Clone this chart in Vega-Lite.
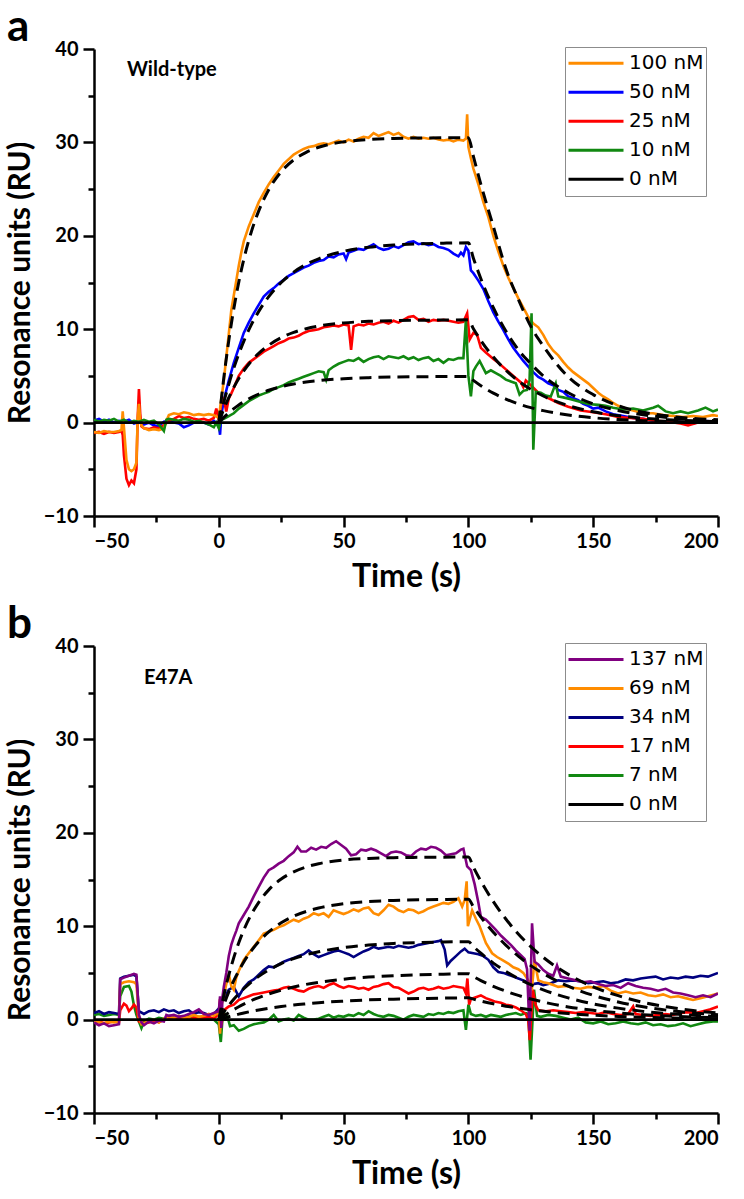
{
"$schema": "https://vega.github.io/schema/vega-lite/v6.json",
"padding": {"left": 5, "top": 6, "right": 5, "bottom": 2},
"background": "white",
"config": {
  "view": {"stroke": null},
  "axis": {"domainColor": "black", "domainWidth": 2.5, "tickColor": "black", "tickWidth": 2.5, "labelFont": "Lato", "labelFontWeight": "bold", "labelFontSize": 20, "labelColor": "black", "titleFont": "Lato", "titleFontWeight": "bold", "titleFontSize": 32, "titleColor": "black", "grid": false, "labelOverlap": false}
},
"datasets": {
"a": [
{"s":"50 nM","t":-50,"v":0.2},{"s":"50 nM","t":-48,"v":0.4},{"s":"50 nM","t":-46,"v":0.1},{"s":"50 nM","t":-44,"v":0.3},{"s":"50 nM","t":-42,"v":0.0},{"s":"50 nM","t":-40,"v":0.2},{"s":"50 nM","t":-38,"v":0.1},{"s":"50 nM","t":-36,"v":0.3},{"s":"50 nM","t":-34,"v":-0.1},{"s":"50 nM","t":-32,"v":0.1},{"s":"50 nM","t":-30,"v":-0.2},{"s":"50 nM","t":-28,"v":0.0},{"s":"50 nM","t":-26,"v":-0.3},{"s":"50 nM","t":-24,"v":-0.4},{"s":"50 nM","t":-22,"v":0.1},{"s":"50 nM","t":-20,"v":0.2},{"s":"50 nM","t":-18,"v":0.0},{"s":"50 nM","t":-16,"v":-0.1},{"s":"50 nM","t":-14,"v":-0.5},{"s":"50 nM","t":-12,"v":-0.3},{"s":"50 nM","t":-10,"v":0.0},{"s":"50 nM","t":-8,"v":0.1},{"s":"50 nM","t":-6,"v":0.0},{"s":"50 nM","t":-4,"v":-0.2},{"s":"50 nM","t":-2,"v":0.2},{"s":"50 nM","t":0,"v":-0.3},{"s":"50 nM","t":0.5,"v":-1.3},{"s":"50 nM","t":1,"v":0.8},{"s":"50 nM","t":2,"v":2.4},{"s":"50 nM","t":4,"v":4.5},{"s":"50 nM","t":6,"v":6.4},{"s":"50 nM","t":8,"v":8.0},{"s":"50 nM","t":10,"v":9.6},{"s":"50 nM","t":12,"v":10.7},{"s":"50 nM","t":14,"v":11.7},{"s":"50 nM","t":16,"v":12.6},{"s":"50 nM","t":18,"v":13.5},{"s":"50 nM","t":20,"v":14.0},{"s":"50 nM","t":22,"v":14.4},{"s":"50 nM","t":24,"v":14.9},{"s":"50 nM","t":26,"v":15.3},{"s":"50 nM","t":28,"v":15.7},{"s":"50 nM","t":30,"v":16.0},{"s":"50 nM","t":32,"v":16.3},{"s":"50 nM","t":34,"v":16.6},{"s":"50 nM","t":36,"v":16.8},{"s":"50 nM","t":38,"v":17.1},{"s":"50 nM","t":40,"v":17.3},{"s":"50 nM","t":42,"v":17.4},{"s":"50 nM","t":44,"v":17.8},{"s":"50 nM","t":46,"v":17.7},{"s":"50 nM","t":48,"v":18.0},{"s":"50 nM","t":50,"v":18.1},{"s":"50 nM","t":51,"v":17.5},{"s":"50 nM","t":52,"v":18.2},{"s":"50 nM","t":54,"v":18.4},{"s":"50 nM","t":56,"v":18.6},{"s":"50 nM","t":58,"v":18.5},{"s":"50 nM","t":60,"v":18.8},{"s":"50 nM","t":62,"v":19.1},{"s":"50 nM","t":64,"v":18.7},{"s":"50 nM","t":66,"v":18.5},{"s":"50 nM","t":68,"v":18.6},{"s":"50 nM","t":70,"v":18.9},{"s":"50 nM","t":72,"v":18.7},{"s":"50 nM","t":74,"v":19.0},{"s":"50 nM","t":76,"v":19.3},{"s":"50 nM","t":78,"v":19.4},{"s":"50 nM","t":80,"v":19.1},{"s":"50 nM","t":82,"v":19.2},{"s":"50 nM","t":84,"v":19.0},{"s":"50 nM","t":86,"v":19.1},{"s":"50 nM","t":88,"v":18.8},{"s":"50 nM","t":90,"v":18.7},{"s":"50 nM","t":92,"v":18.5},{"s":"50 nM","t":94,"v":18.1},{"s":"50 nM","t":96,"v":17.8},{"s":"50 nM","t":97,"v":18.2},{"s":"50 nM","t":98,"v":17.9},{"s":"50 nM","t":99,"v":18.8},{"s":"50 nM","t":100,"v":18.4},{"s":"50 nM","t":101,"v":16.3},{"s":"50 nM","t":102,"v":16.0},{"s":"50 nM","t":104,"v":15.2},{"s":"50 nM","t":106,"v":14.3},{"s":"50 nM","t":108,"v":13.0},{"s":"50 nM","t":110,"v":11.8},{"s":"50 nM","t":112,"v":10.8},{"s":"50 nM","t":114,"v":9.9},{"s":"50 nM","t":116,"v":8.9},{"s":"50 nM","t":118,"v":8.0},{"s":"50 nM","t":120,"v":7.3},{"s":"50 nM","t":122,"v":6.6},{"s":"50 nM","t":124,"v":6.0},{"s":"50 nM","t":126,"v":5.4},{"s":"50 nM","t":128,"v":4.9},{"s":"50 nM","t":130,"v":4.6},{"s":"50 nM","t":132,"v":4.2},{"s":"50 nM","t":134,"v":4.0},{"s":"50 nM","t":136,"v":3.5},{"s":"50 nM","t":138,"v":3.3},{"s":"50 nM","t":140,"v":2.8},{"s":"50 nM","t":142,"v":2.6},{"s":"50 nM","t":144,"v":2.4},{"s":"50 nM","t":146,"v":2.0},{"s":"50 nM","t":148,"v":1.8},{"s":"50 nM","t":150,"v":1.5},{"s":"50 nM","t":152,"v":1.6},{"s":"50 nM","t":155,"v":1.2},{"s":"50 nM","t":158,"v":0.9},{"s":"50 nM","t":162,"v":0.7},{"s":"50 nM","t":166,"v":0.5},{"s":"50 nM","t":170,"v":0.4},{"s":"50 nM","t":174,"v":0.2},{"s":"50 nM","t":178,"v":0.1},{"s":"50 nM","t":182,"v":0.2},{"s":"50 nM","t":186,"v":0.0},{"s":"50 nM","t":190,"v":-0.1},{"s":"50 nM","t":194,"v":0.2},{"s":"50 nM","t":198,"v":0.1},{"s":"50 nM","t":200,"v":0.2},
{"s":"25 nM","t":-50,"v":-1.1},{"s":"25 nM","t":-48,"v":-1.0},{"s":"25 nM","t":-46,"v":-1.2},{"s":"25 nM","t":-44,"v":-1.0},{"s":"25 nM","t":-42,"v":-1.1},{"s":"25 nM","t":-40,"v":-1.0},{"s":"25 nM","t":-39,"v":-0.9},{"s":"25 nM","t":-38.5,"v":-1.3},{"s":"25 nM","t":-38,"v":-3.5},{"s":"25 nM","t":-37,"v":-6.0},{"s":"25 nM","t":-36,"v":-6.7},{"s":"25 nM","t":-35,"v":-6.2},{"s":"25 nM","t":-34,"v":-6.5},{"s":"25 nM","t":-33,"v":-5.0},{"s":"25 nM","t":-32.5,"v":0.5},{"s":"25 nM","t":-32,"v":3.6},{"s":"25 nM","t":-31.5,"v":1.0},{"s":"25 nM","t":-31,"v":-0.4},{"s":"25 nM","t":-30,"v":-0.6},{"s":"25 nM","t":-28,"v":-0.7},{"s":"25 nM","t":-26,"v":-0.5},{"s":"25 nM","t":-24,"v":-0.6},{"s":"25 nM","t":-22,"v":-0.3},{"s":"25 nM","t":-20,"v":0.2},{"s":"25 nM","t":-18,"v":0.4},{"s":"25 nM","t":-16,"v":0.7},{"s":"25 nM","t":-14,"v":0.5},{"s":"25 nM","t":-12,"v":0.6},{"s":"25 nM","t":-10,"v":0.4},{"s":"25 nM","t":-8,"v":0.3},{"s":"25 nM","t":-6,"v":0.4},{"s":"25 nM","t":-4,"v":0.2},{"s":"25 nM","t":-2,"v":0.5},{"s":"25 nM","t":-1,"v":1.5},{"s":"25 nM","t":0,"v":0.3},{"s":"25 nM","t":1,"v":2.0},{"s":"25 nM","t":2,"v":2.5},{"s":"25 nM","t":3,"v":1.2},{"s":"25 nM","t":4,"v":2.6},{"s":"25 nM","t":5,"v":3.1},{"s":"25 nM","t":6,"v":3.7},{"s":"25 nM","t":8,"v":5.0},{"s":"25 nM","t":10,"v":5.8},{"s":"25 nM","t":12,"v":6.4},{"s":"25 nM","t":14,"v":6.8},{"s":"25 nM","t":16,"v":7.2},{"s":"25 nM","t":18,"v":7.6},{"s":"25 nM","t":20,"v":7.9},{"s":"25 nM","t":22,"v":8.2},{"s":"25 nM","t":24,"v":8.5},{"s":"25 nM","t":26,"v":8.7},{"s":"25 nM","t":28,"v":9.0},{"s":"25 nM","t":30,"v":9.1},{"s":"25 nM","t":32,"v":9.3},{"s":"25 nM","t":34,"v":9.6},{"s":"25 nM","t":36,"v":9.8},{"s":"25 nM","t":38,"v":9.9},{"s":"25 nM","t":40,"v":10.0},{"s":"25 nM","t":42,"v":10.2},{"s":"25 nM","t":44,"v":10.3},{"s":"25 nM","t":46,"v":10.4},{"s":"25 nM","t":48,"v":10.3},{"s":"25 nM","t":50,"v":10.5},{"s":"25 nM","t":52,"v":10.4},{"s":"25 nM","t":53,"v":7.8},{"s":"25 nM","t":54,"v":10.3},{"s":"25 nM","t":56,"v":10.5},{"s":"25 nM","t":58,"v":10.4},{"s":"25 nM","t":60,"v":10.6},{"s":"25 nM","t":62,"v":10.5},{"s":"25 nM","t":64,"v":10.7},{"s":"25 nM","t":66,"v":10.8},{"s":"25 nM","t":68,"v":10.6},{"s":"25 nM","t":70,"v":10.9},{"s":"25 nM","t":72,"v":10.7},{"s":"25 nM","t":74,"v":11.0},{"s":"25 nM","t":76,"v":11.3},{"s":"25 nM","t":78,"v":11.4},{"s":"25 nM","t":80,"v":11.0},{"s":"25 nM","t":82,"v":11.1},{"s":"25 nM","t":84,"v":10.8},{"s":"25 nM","t":86,"v":11.0},{"s":"25 nM","t":88,"v":10.9},{"s":"25 nM","t":90,"v":11.0},{"s":"25 nM","t":92,"v":10.9},{"s":"25 nM","t":94,"v":10.8},{"s":"25 nM","t":96,"v":10.7},{"s":"25 nM","t":98,"v":10.8},{"s":"25 nM","t":99.5,"v":11.7},{"s":"25 nM","t":100.5,"v":8.9},{"s":"25 nM","t":102,"v":9.6},{"s":"25 nM","t":103.5,"v":9.4},{"s":"25 nM","t":105,"v":8.0},{"s":"25 nM","t":107,"v":7.5},{"s":"25 nM","t":110,"v":6.8},{"s":"25 nM","t":112,"v":6.4},{"s":"25 nM","t":115,"v":5.7},{"s":"25 nM","t":118,"v":5.0},{"s":"25 nM","t":121,"v":4.3},{"s":"25 nM","t":122,"v":3.8},{"s":"25 nM","t":123,"v":4.5},{"s":"25 nM","t":125,"v":4.0},{"s":"25 nM","t":128,"v":3.2},{"s":"25 nM","t":130,"v":2.9},{"s":"25 nM","t":133,"v":2.5},{"s":"25 nM","t":136,"v":2.1},{"s":"25 nM","t":140,"v":1.7},{"s":"25 nM","t":145,"v":1.3},{"s":"25 nM","t":150,"v":1.1},{"s":"25 nM","t":155,"v":0.9},{"s":"25 nM","t":160,"v":0.6},{"s":"25 nM","t":165,"v":0.5},{"s":"25 nM","t":170,"v":0.4},{"s":"25 nM","t":175,"v":0.2},{"s":"25 nM","t":180,"v":0.1},{"s":"25 nM","t":185,"v":-0.1},{"s":"25 nM","t":188,"v":-0.3},{"s":"25 nM","t":192,"v":0.0},{"s":"25 nM","t":196,"v":0.1},{"s":"25 nM","t":200,"v":0.2},
{"s":"100 nM","t":-50,"v":-1.0},{"s":"100 nM","t":-48,"v":-1.1},{"s":"100 nM","t":-46,"v":-0.9},{"s":"100 nM","t":-44,"v":-1.0},{"s":"100 nM","t":-42,"v":-1.0},{"s":"100 nM","t":-40,"v":-0.9},{"s":"100 nM","t":-39,"v":-0.8},{"s":"100 nM","t":-38.5,"v":1.2},{"s":"100 nM","t":-38,"v":-0.5},{"s":"100 nM","t":-37,"v":-4.0},{"s":"100 nM","t":-36,"v":-5.0},{"s":"100 nM","t":-35,"v":-5.2},{"s":"100 nM","t":-34,"v":-5.0},{"s":"100 nM","t":-33,"v":-4.3},{"s":"100 nM","t":-32.5,"v":0.5},{"s":"100 nM","t":-32,"v":2.0},{"s":"100 nM","t":-31.5,"v":0.3},{"s":"100 nM","t":-31,"v":-0.3},{"s":"100 nM","t":-30,"v":-0.6},{"s":"100 nM","t":-28,"v":-0.8},{"s":"100 nM","t":-26,"v":-0.7},{"s":"100 nM","t":-24,"v":-0.8},{"s":"100 nM","t":-22,"v":-0.6},{"s":"100 nM","t":-21,"v":0.2},{"s":"100 nM","t":-20,"v":0.8},{"s":"100 nM","t":-18,"v":1.0},{"s":"100 nM","t":-16,"v":0.9},{"s":"100 nM","t":-14,"v":1.1},{"s":"100 nM","t":-12,"v":1.0},{"s":"100 nM","t":-10,"v":0.8},{"s":"100 nM","t":-8,"v":0.9},{"s":"100 nM","t":-6,"v":0.8},{"s":"100 nM","t":-4,"v":0.9},{"s":"100 nM","t":-2,"v":0.8},{"s":"100 nM","t":0,"v":0.5},{"s":"100 nM","t":1,"v":2.5},{"s":"100 nM","t":2,"v":4.5},{"s":"100 nM","t":3,"v":7.0},{"s":"100 nM","t":4,"v":9.5},{"s":"100 nM","t":5,"v":12.0},{"s":"100 nM","t":6,"v":13.6},{"s":"100 nM","t":7,"v":15.2},{"s":"100 nM","t":8,"v":16.8},{"s":"100 nM","t":9,"v":18.2},{"s":"100 nM","t":10,"v":19.4},{"s":"100 nM","t":12,"v":21.0},{"s":"100 nM","t":14,"v":22.3},{"s":"100 nM","t":16,"v":23.6},{"s":"100 nM","t":18,"v":24.6},{"s":"100 nM","t":20,"v":25.5},{"s":"100 nM","t":22,"v":26.3},{"s":"100 nM","t":24,"v":27.0},{"s":"100 nM","t":26,"v":27.7},{"s":"100 nM","t":28,"v":28.2},{"s":"100 nM","t":30,"v":28.7},{"s":"100 nM","t":32,"v":29.0},{"s":"100 nM","t":34,"v":29.3},{"s":"100 nM","t":36,"v":29.5},{"s":"100 nM","t":38,"v":29.6},{"s":"100 nM","t":40,"v":29.8},{"s":"100 nM","t":42,"v":29.9},{"s":"100 nM","t":44,"v":29.8},{"s":"100 nM","t":46,"v":30.0},{"s":"100 nM","t":48,"v":30.2},{"s":"100 nM","t":50,"v":30.0},{"s":"100 nM","t":52,"v":30.3},{"s":"100 nM","t":54,"v":30.1},{"s":"100 nM","t":56,"v":30.4},{"s":"100 nM","t":58,"v":30.6},{"s":"100 nM","t":60,"v":30.5},{"s":"100 nM","t":62,"v":31.0},{"s":"100 nM","t":64,"v":30.7},{"s":"100 nM","t":66,"v":30.9},{"s":"100 nM","t":68,"v":31.1},{"s":"100 nM","t":70,"v":30.8},{"s":"100 nM","t":72,"v":31.0},{"s":"100 nM","t":74,"v":30.6},{"s":"100 nM","t":76,"v":30.4},{"s":"100 nM","t":78,"v":30.6},{"s":"100 nM","t":80,"v":30.4},{"s":"100 nM","t":82,"v":30.5},{"s":"100 nM","t":84,"v":30.4},{"s":"100 nM","t":86,"v":30.5},{"s":"100 nM","t":88,"v":30.3},{"s":"100 nM","t":90,"v":30.2},{"s":"100 nM","t":92,"v":30.3},{"s":"100 nM","t":94,"v":30.1},{"s":"100 nM","t":96,"v":30.3},{"s":"100 nM","t":98,"v":30.2},{"s":"100 nM","t":99,"v":30.4},{"s":"100 nM","t":99.5,"v":33.0},{"s":"100 nM","t":100,"v":29.5},{"s":"100 nM","t":101,"v":28.3},{"s":"100 nM","t":102,"v":27.2},{"s":"100 nM","t":104,"v":25.5},{"s":"100 nM","t":106,"v":23.6},{"s":"100 nM","t":108,"v":22.0},{"s":"100 nM","t":110,"v":20.0},{"s":"100 nM","t":112,"v":18.3},{"s":"100 nM","t":114,"v":16.8},{"s":"100 nM","t":116,"v":15.5},{"s":"100 nM","t":118,"v":14.4},{"s":"100 nM","t":120,"v":13.3},{"s":"100 nM","t":122,"v":12.3},{"s":"100 nM","t":124,"v":11.3},{"s":"100 nM","t":126,"v":10.6},{"s":"100 nM","t":128,"v":10.2},{"s":"100 nM","t":130,"v":9.4},{"s":"100 nM","t":132,"v":8.4},{"s":"100 nM","t":134,"v":7.7},{"s":"100 nM","t":136,"v":7.2},{"s":"100 nM","t":138,"v":6.5},{"s":"100 nM","t":140,"v":5.9},{"s":"100 nM","t":142,"v":5.4},{"s":"100 nM","t":144,"v":5.0},{"s":"100 nM","t":146,"v":4.6},{"s":"100 nM","t":148,"v":4.2},{"s":"100 nM","t":150,"v":3.7},{"s":"100 nM","t":152,"v":3.2},{"s":"100 nM","t":154,"v":2.8},{"s":"100 nM","t":156,"v":2.5},{"s":"100 nM","t":158,"v":2.1},{"s":"100 nM","t":160,"v":1.8},{"s":"100 nM","t":163,"v":1.5},{"s":"100 nM","t":166,"v":1.3},{"s":"100 nM","t":170,"v":1.0},{"s":"100 nM","t":174,"v":1.0},{"s":"100 nM","t":178,"v":0.8},{"s":"100 nM","t":182,"v":0.7},{"s":"100 nM","t":186,"v":0.6},{"s":"100 nM","t":190,"v":0.7},{"s":"100 nM","t":194,"v":0.6},{"s":"100 nM","t":198,"v":0.8},{"s":"100 nM","t":200,"v":0.7},
{"s":"10 nM","t":-50,"v":0.3},{"s":"10 nM","t":-48,"v":0.1},{"s":"10 nM","t":-46,"v":0.3},{"s":"10 nM","t":-44,"v":0.2},{"s":"10 nM","t":-42,"v":0.4},{"s":"10 nM","t":-40,"v":0.1},{"s":"10 nM","t":-38,"v":0.3},{"s":"10 nM","t":-36,"v":0.0},{"s":"10 nM","t":-34,"v":0.2},{"s":"10 nM","t":-32,"v":0.1},{"s":"10 nM","t":-30,"v":0.3},{"s":"10 nM","t":-28,"v":0.1},{"s":"10 nM","t":-26,"v":0.2},{"s":"10 nM","t":-24,"v":-0.2},{"s":"10 nM","t":-22,"v":-0.9},{"s":"10 nM","t":-21,"v":0.3},{"s":"10 nM","t":-20,"v":0.4},{"s":"10 nM","t":-18,"v":0.3},{"s":"10 nM","t":-16,"v":0.2},{"s":"10 nM","t":-14,"v":0.4},{"s":"10 nM","t":-12,"v":0.3},{"s":"10 nM","t":-10,"v":0.1},{"s":"10 nM","t":-8,"v":0.2},{"s":"10 nM","t":-6,"v":0.0},{"s":"10 nM","t":-4,"v":-0.2},{"s":"10 nM","t":-2,"v":-0.5},{"s":"10 nM","t":-1,"v":0.0},{"s":"10 nM","t":0,"v":-0.6},{"s":"10 nM","t":1,"v":0.3},{"s":"10 nM","t":2,"v":0.4},{"s":"10 nM","t":4,"v":0.7},{"s":"10 nM","t":6,"v":1.0},{"s":"10 nM","t":8,"v":1.5},{"s":"10 nM","t":10,"v":1.9},{"s":"10 nM","t":12,"v":2.3},{"s":"10 nM","t":14,"v":2.6},{"s":"10 nM","t":16,"v":2.9},{"s":"10 nM","t":18,"v":3.1},{"s":"10 nM","t":20,"v":3.3},{"s":"10 nM","t":22,"v":3.6},{"s":"10 nM","t":24,"v":3.8},{"s":"10 nM","t":26,"v":4.0},{"s":"10 nM","t":28,"v":4.3},{"s":"10 nM","t":30,"v":4.5},{"s":"10 nM","t":32,"v":4.7},{"s":"10 nM","t":34,"v":4.9},{"s":"10 nM","t":36,"v":5.1},{"s":"10 nM","t":38,"v":5.3},{"s":"10 nM","t":40,"v":5.5},{"s":"10 nM","t":42,"v":5.4},{"s":"10 nM","t":43,"v":4.6},{"s":"10 nM","t":44,"v":5.6},{"s":"10 nM","t":46,"v":6.0},{"s":"10 nM","t":48,"v":6.3},{"s":"10 nM","t":50,"v":6.5},{"s":"10 nM","t":52,"v":6.7},{"s":"10 nM","t":54,"v":6.6},{"s":"10 nM","t":56,"v":6.9},{"s":"10 nM","t":58,"v":6.5},{"s":"10 nM","t":60,"v":6.8},{"s":"10 nM","t":62,"v":7.0},{"s":"10 nM","t":64,"v":7.1},{"s":"10 nM","t":66,"v":6.8},{"s":"10 nM","t":68,"v":7.1},{"s":"10 nM","t":70,"v":7.0},{"s":"10 nM","t":72,"v":6.9},{"s":"10 nM","t":74,"v":7.1},{"s":"10 nM","t":76,"v":6.8},{"s":"10 nM","t":78,"v":7.0},{"s":"10 nM","t":80,"v":6.7},{"s":"10 nM","t":82,"v":6.9},{"s":"10 nM","t":84,"v":7.0},{"s":"10 nM","t":86,"v":6.6},{"s":"10 nM","t":88,"v":6.8},{"s":"10 nM","t":90,"v":6.4},{"s":"10 nM","t":92,"v":6.8},{"s":"10 nM","t":94,"v":6.7},{"s":"10 nM","t":96,"v":6.9},{"s":"10 nM","t":98,"v":6.9},{"s":"10 nM","t":99,"v":11.0},{"s":"10 nM","t":100,"v":5.0},{"s":"10 nM","t":101,"v":2.8},{"s":"10 nM","t":102,"v":5.5},{"s":"10 nM","t":103,"v":6.0},{"s":"10 nM","t":104.5,"v":6.6},{"s":"10 nM","t":107,"v":5.3},{"s":"10 nM","t":109,"v":5.6},{"s":"10 nM","t":111,"v":5.3},{"s":"10 nM","t":113,"v":5.0},{"s":"10 nM","t":115,"v":4.6},{"s":"10 nM","t":117,"v":4.4},{"s":"10 nM","t":119,"v":4.2},{"s":"10 nM","t":120.5,"v":3.0},{"s":"10 nM","t":122,"v":3.4},{"s":"10 nM","t":123.5,"v":3.5},{"s":"10 nM","t":124.5,"v":4.5},{"s":"10 nM","t":125.3,"v":11.7},{"s":"10 nM","t":126,"v":-2.9},{"s":"10 nM","t":127,"v":3.3},{"s":"10 nM","t":129,"v":3.2},{"s":"10 nM","t":131,"v":2.9},{"s":"10 nM","t":133,"v":2.8},{"s":"10 nM","t":135,"v":4.2},{"s":"10 nM","t":136,"v":2.8},{"s":"10 nM","t":138,"v":2.7},{"s":"10 nM","t":141,"v":2.5},{"s":"10 nM","t":145,"v":2.2},{"s":"10 nM","t":148,"v":2.0},{"s":"10 nM","t":152,"v":1.9},{"s":"10 nM","t":155,"v":1.8},{"s":"10 nM","t":158,"v":1.6},{"s":"10 nM","t":162,"v":1.4},{"s":"10 nM","t":166,"v":1.5},{"s":"10 nM","t":170,"v":1.3},{"s":"10 nM","t":174,"v":1.6},{"s":"10 nM","t":176,"v":1.8},{"s":"10 nM","t":179,"v":1.2},{"s":"10 nM","t":182,"v":1.0},{"s":"10 nM","t":185,"v":1.2},{"s":"10 nM","t":188,"v":1.0},{"s":"10 nM","t":192,"v":1.3},{"s":"10 nM","t":195,"v":1.6},{"s":"10 nM","t":198,"v":1.2},{"s":"10 nM","t":200,"v":1.4},
{"s":"0 nM","t":-50,"v":0},{"s":"0 nM","t":200,"v":0}
],
"af": [
{"s":"f100","t":0,"v":0},{"s":"f100","t":2,"v":4.77},{"s":"f100","t":4,"v":8.78},{"s":"f100","t":6,"v":12.17},{"s":"f100","t":8,"v":15.04},{"s":"f100","t":10,"v":17.47},{"s":"f100","t":13,"v":20.4},{"s":"f100","t":16,"v":22.67},{"s":"f100","t":20,"v":24.93},{"s":"f100","t":25,"v":26.86},{"s":"f100","t":30,"v":28.12},{"s":"f100","t":35,"v":28.94},{"s":"f100","t":40,"v":29.48},{"s":"f100","t":50,"v":30.06},{"s":"f100","t":60,"v":30.31},{"s":"f100","t":70,"v":30.42},{"s":"f100","t":80,"v":30.47},{"s":"f100","t":90,"v":30.49},{"s":"f100","t":100,"v":30.5},{"s":"f100","t":102,"v":28.5},{"s":"f100","t":105,"v":25.5},{"s":"f100","t":110,"v":21.0},{"s":"f100","t":115,"v":16.5},{"s":"f100","t":120,"v":13.2},{"s":"f100","t":125,"v":10.3},{"s":"f100","t":130,"v":8.2},{"s":"f100","t":140,"v":4.9},{"s":"f100","t":150,"v":3.0},{"s":"f100","t":160,"v":1.8},{"s":"f100","t":170,"v":1.1},{"s":"f100","t":180,"v":0.7},{"s":"f100","t":190,"v":0.45},{"s":"f100","t":200,"v":0.3},
{"s":"f50","t":0,"v":0},{"s":"f50","t":2,"v":2.18},{"s":"f50","t":4,"v":4.11},{"s":"f50","t":6,"v":5.83},{"s":"f50","t":8,"v":7.35},{"s":"f50","t":10,"v":8.7},{"s":"f50","t":13,"v":10.46},{"s":"f50","t":16,"v":11.91},{"s":"f50","t":20,"v":13.49},{"s":"f50","t":25,"v":15.0},{"s":"f50","t":30,"v":16.11},{"s":"f50","t":35,"v":16.94},{"s":"f50","t":40,"v":17.54},{"s":"f50","t":50,"v":18.34},{"s":"f50","t":60,"v":18.77},{"s":"f50","t":70,"v":19.01},{"s":"f50","t":80,"v":19.14},{"s":"f50","t":90,"v":19.21},{"s":"f50","t":100,"v":19.25},{"s":"f50","t":102,"v":17.6},{"s":"f50","t":105,"v":15.4},{"s":"f50","t":110,"v":12.3},{"s":"f50","t":115,"v":9.8},{"s":"f50","t":120,"v":7.8},{"s":"f50","t":125,"v":6.3},{"s":"f50","t":130,"v":5.0},{"s":"f50","t":140,"v":3.2},{"s":"f50","t":150,"v":2.0},{"s":"f50","t":160,"v":1.3},{"s":"f50","t":170,"v":0.83},{"s":"f50","t":180,"v":0.53},{"s":"f50","t":190,"v":0.34},{"s":"f50","t":200,"v":0.21},
{"s":"f25","t":0,"v":0},{"s":"f25","t":2,"v":1.44},{"s":"f25","t":4,"v":2.68},{"s":"f25","t":6,"v":3.77},{"s":"f25","t":8,"v":4.72},{"s":"f25","t":10,"v":5.53},{"s":"f25","t":13,"v":6.57},{"s":"f25","t":16,"v":7.41},{"s":"f25","t":20,"v":8.28},{"s":"f25","t":25,"v":9.09},{"s":"f25","t":30,"v":9.66},{"s":"f25","t":35,"v":10.05},{"s":"f25","t":40,"v":10.33},{"s":"f25","t":50,"v":10.67},{"s":"f25","t":60,"v":10.84},{"s":"f25","t":70,"v":10.92},{"s":"f25","t":80,"v":10.96},{"s":"f25","t":90,"v":10.98},{"s":"f25","t":100,"v":11.0},{"s":"f25","t":102,"v":10.05},{"s":"f25","t":105,"v":8.79},{"s":"f25","t":110,"v":7.02},{"s":"f25","t":115,"v":5.6},{"s":"f25","t":120,"v":4.47},{"s":"f25","t":125,"v":3.57},{"s":"f25","t":130,"v":2.85},{"s":"f25","t":140,"v":1.82},{"s":"f25","t":150,"v":1.16},{"s":"f25","t":160,"v":0.74},{"s":"f25","t":170,"v":0.47},{"s":"f25","t":180,"v":0.3},{"s":"f25","t":190,"v":0.19},{"s":"f25","t":200,"v":0.12},
{"s":"f10","t":0,"v":0},{"s":"f10","t":2,"v":0.56},{"s":"f10","t":4,"v":1.05},{"s":"f10","t":6,"v":1.49},{"s":"f10","t":8,"v":1.89},{"s":"f10","t":10,"v":2.23},{"s":"f10","t":13,"v":2.68},{"s":"f10","t":16,"v":3.05},{"s":"f10","t":20,"v":3.46},{"s":"f10","t":25,"v":3.85},{"s":"f10","t":30,"v":4.13},{"s":"f10","t":35,"v":4.35},{"s":"f10","t":40,"v":4.5},{"s":"f10","t":50,"v":4.7},{"s":"f10","t":60,"v":4.81},{"s":"f10","t":70,"v":4.88},{"s":"f10","t":80,"v":4.91},{"s":"f10","t":90,"v":4.93},{"s":"f10","t":100,"v":4.94},{"s":"f10","t":102,"v":4.52},{"s":"f10","t":105,"v":3.95},{"s":"f10","t":110,"v":3.15},{"s":"f10","t":115,"v":2.52},{"s":"f10","t":120,"v":2.01},{"s":"f10","t":125,"v":1.6},{"s":"f10","t":130,"v":1.28},{"s":"f10","t":140,"v":0.82},{"s":"f10","t":150,"v":0.52},{"s":"f10","t":160,"v":0.33},{"s":"f10","t":170,"v":0.21},{"s":"f10","t":180,"v":0.14},{"s":"f10","t":190,"v":0.09},{"s":"f10","t":200,"v":0.05}
],
"b": [
{"s":"7 nM","t":-50,"v":0.5},{"s":"7 nM","t":-48,"v":0.6},{"s":"7 nM","t":-46,"v":0.4},{"s":"7 nM","t":-44,"v":0.5},{"s":"7 nM","t":-42,"v":0.6},{"s":"7 nM","t":-40,"v":0.5},{"s":"7 nM","t":-39.5,"v":2.5},{"s":"7 nM","t":-38,"v":3.5},{"s":"7 nM","t":-36,"v":3.6},{"s":"7 nM","t":-35,"v":3.0},{"s":"7 nM","t":-34,"v":1.5},{"s":"7 nM","t":-33,"v":0.5},{"s":"7 nM","t":-31,"v":-0.9},{"s":"7 nM","t":-30,"v":-0.2},{"s":"7 nM","t":-28,"v":0.1},{"s":"7 nM","t":-26,"v":0.0},{"s":"7 nM","t":-24,"v":0.2},{"s":"7 nM","t":-22,"v":0.1},{"s":"7 nM","t":-20,"v":0.4},{"s":"7 nM","t":-18,"v":0.3},{"s":"7 nM","t":-16,"v":0.2},{"s":"7 nM","t":-14,"v":0.3},{"s":"7 nM","t":-12,"v":0.4},{"s":"7 nM","t":-10,"v":0.2},{"s":"7 nM","t":-8,"v":0.3},{"s":"7 nM","t":-6,"v":0.2},{"s":"7 nM","t":-4,"v":0.1},{"s":"7 nM","t":-2,"v":0.0},{"s":"7 nM","t":0,"v":-0.5},{"s":"7 nM","t":0.8,"v":-2.4},{"s":"7 nM","t":1.5,"v":0.2},{"s":"7 nM","t":2.5,"v":0.6},{"s":"7 nM","t":3.5,"v":0.3},{"s":"7 nM","t":4.5,"v":-0.7},{"s":"7 nM","t":6,"v":-0.6},{"s":"7 nM","t":8,"v":-1.2},{"s":"7 nM","t":10,"v":-1.0},{"s":"7 nM","t":12,"v":-0.7},{"s":"7 nM","t":14,"v":-0.5},{"s":"7 nM","t":16,"v":-0.4},{"s":"7 nM","t":18,"v":-0.3},{"s":"7 nM","t":20,"v":0.0},{"s":"7 nM","t":22,"v":0.5},{"s":"7 nM","t":24,"v":-0.2},{"s":"7 nM","t":26,"v":0.0},{"s":"7 nM","t":28,"v":0.1},{"s":"7 nM","t":30,"v":-0.1},{"s":"7 nM","t":32,"v":0.5},{"s":"7 nM","t":34,"v":0.2},{"s":"7 nM","t":36,"v":0.0},{"s":"7 nM","t":38,"v":0.0},{"s":"7 nM","t":40,"v":0.1},{"s":"7 nM","t":42,"v":0.3},{"s":"7 nM","t":44,"v":0.5},{"s":"7 nM","t":46,"v":0.2},{"s":"7 nM","t":48,"v":0.4},{"s":"7 nM","t":50,"v":0.3},{"s":"7 nM","t":52,"v":0.5},{"s":"7 nM","t":54,"v":0.4},{"s":"7 nM","t":56,"v":0.7},{"s":"7 nM","t":58,"v":0.5},{"s":"7 nM","t":60,"v":0.9},{"s":"7 nM","t":62,"v":0.6},{"s":"7 nM","t":64,"v":0.4},{"s":"7 nM","t":66,"v":0.3},{"s":"7 nM","t":68,"v":0.5},{"s":"7 nM","t":70,"v":0.4},{"s":"7 nM","t":72,"v":0.2},{"s":"7 nM","t":74,"v":0.0},{"s":"7 nM","t":76,"v":0.3},{"s":"7 nM","t":78,"v":0.5},{"s":"7 nM","t":80,"v":0.4},{"s":"7 nM","t":82,"v":0.3},{"s":"7 nM","t":84,"v":0.6},{"s":"7 nM","t":86,"v":0.5},{"s":"7 nM","t":88,"v":0.7},{"s":"7 nM","t":90,"v":0.6},{"s":"7 nM","t":92,"v":0.8},{"s":"7 nM","t":94,"v":0.7},{"s":"7 nM","t":96,"v":0.9},{"s":"7 nM","t":98,"v":1.0},{"s":"7 nM","t":99,"v":-1.1},{"s":"7 nM","t":100,"v":1.6},{"s":"7 nM","t":101,"v":0.6},{"s":"7 nM","t":103,"v":0.4},{"s":"7 nM","t":105,"v":0.5},{"s":"7 nM","t":107,"v":0.3},{"s":"7 nM","t":109,"v":0.5},{"s":"7 nM","t":111,"v":0.4},{"s":"7 nM","t":113,"v":0.3},{"s":"7 nM","t":115,"v":0.5},{"s":"7 nM","t":117,"v":0.6},{"s":"7 nM","t":119,"v":0.7},{"s":"7 nM","t":121,"v":0.5},{"s":"7 nM","t":123,"v":0.7},{"s":"7 nM","t":124,"v":0.6},{"s":"7 nM","t":124.9,"v":-4.3},{"s":"7 nM","t":126.3,"v":3.2},{"s":"7 nM","t":127.5,"v":0.4},{"s":"7 nM","t":129,"v":0.3},{"s":"7 nM","t":132,"v":0.5},{"s":"7 nM","t":135,"v":0.4},{"s":"7 nM","t":138,"v":0.2},{"s":"7 nM","t":141,"v":0.0},{"s":"7 nM","t":144,"v":0.2},{"s":"7 nM","t":147,"v":-0.3},{"s":"7 nM","t":150,"v":-0.4},{"s":"7 nM","t":153,"v":-0.2},{"s":"7 nM","t":156,"v":-0.5},{"s":"7 nM","t":159,"v":-0.4},{"s":"7 nM","t":162,"v":-0.2},{"s":"7 nM","t":165,"v":-0.4},{"s":"7 nM","t":168,"v":-0.5},{"s":"7 nM","t":171,"v":-0.3},{"s":"7 nM","t":174,"v":-0.6},{"s":"7 nM","t":177,"v":-0.5},{"s":"7 nM","t":180,"v":-0.7},{"s":"7 nM","t":183,"v":-0.6},{"s":"7 nM","t":186,"v":-0.4},{"s":"7 nM","t":189,"v":-0.7},{"s":"7 nM","t":192,"v":-0.5},{"s":"7 nM","t":195,"v":-0.3},{"s":"7 nM","t":198,"v":-0.2},{"s":"7 nM","t":200,"v":-0.2},
{"s":"17 nM","t":-50,"v":-0.3},{"s":"17 nM","t":-48,"v":-0.2},{"s":"17 nM","t":-46,"v":-0.4},{"s":"17 nM","t":-44,"v":-0.3},{"s":"17 nM","t":-42,"v":-0.2},{"s":"17 nM","t":-40,"v":-0.3},{"s":"17 nM","t":-39.5,"v":1.0},{"s":"17 nM","t":-38,"v":1.7},{"s":"17 nM","t":-37,"v":1.5},{"s":"17 nM","t":-36,"v":0.9},{"s":"17 nM","t":-35,"v":1.2},{"s":"17 nM","t":-34,"v":1.6},{"s":"17 nM","t":-33,"v":1.3},{"s":"17 nM","t":-32,"v":-0.2},{"s":"17 nM","t":-30,"v":-0.4},{"s":"17 nM","t":-28,"v":-0.3},{"s":"17 nM","t":-26,"v":-0.1},{"s":"17 nM","t":-24,"v":-0.3},{"s":"17 nM","t":-22,"v":0.0},{"s":"17 nM","t":-20,"v":0.1},{"s":"17 nM","t":-18,"v":0.0},{"s":"17 nM","t":-16,"v":0.2},{"s":"17 nM","t":-14,"v":0.1},{"s":"17 nM","t":-12,"v":0.0},{"s":"17 nM","t":-10,"v":0.2},{"s":"17 nM","t":-8,"v":0.1},{"s":"17 nM","t":-6,"v":0.2},{"s":"17 nM","t":-4,"v":0.3},{"s":"17 nM","t":-2,"v":0.1},{"s":"17 nM","t":0,"v":0.6},{"s":"17 nM","t":0.5,"v":2.2},{"s":"17 nM","t":1,"v":-0.6},{"s":"17 nM","t":2,"v":1.0},{"s":"17 nM","t":3,"v":1.2},{"s":"17 nM","t":4,"v":1.4},{"s":"17 nM","t":6,"v":1.6},{"s":"17 nM","t":8,"v":2.1},{"s":"17 nM","t":10,"v":2.3},{"s":"17 nM","t":12,"v":2.5},{"s":"17 nM","t":14,"v":2.7},{"s":"17 nM","t":16,"v":2.8},{"s":"17 nM","t":18,"v":2.9},{"s":"17 nM","t":20,"v":3.0},{"s":"17 nM","t":22,"v":3.1},{"s":"17 nM","t":24,"v":3.2},{"s":"17 nM","t":26,"v":3.4},{"s":"17 nM","t":28,"v":3.5},{"s":"17 nM","t":30,"v":3.3},{"s":"17 nM","t":32,"v":3.1},{"s":"17 nM","t":34,"v":3.0},{"s":"17 nM","t":36,"v":3.3},{"s":"17 nM","t":38,"v":3.5},{"s":"17 nM","t":40,"v":3.6},{"s":"17 nM","t":42,"v":3.4},{"s":"17 nM","t":44,"v":3.7},{"s":"17 nM","t":46,"v":3.9},{"s":"17 nM","t":48,"v":3.6},{"s":"17 nM","t":50,"v":3.4},{"s":"17 nM","t":52,"v":3.6},{"s":"17 nM","t":54,"v":3.5},{"s":"17 nM","t":56,"v":3.3},{"s":"17 nM","t":58,"v":3.4},{"s":"17 nM","t":60,"v":3.2},{"s":"17 nM","t":62,"v":3.5},{"s":"17 nM","t":64,"v":3.6},{"s":"17 nM","t":66,"v":3.8},{"s":"17 nM","t":68,"v":3.9},{"s":"17 nM","t":70,"v":3.5},{"s":"17 nM","t":72,"v":3.4},{"s":"17 nM","t":74,"v":3.1},{"s":"17 nM","t":76,"v":2.8},{"s":"17 nM","t":78,"v":3.0},{"s":"17 nM","t":80,"v":3.3},{"s":"17 nM","t":82,"v":3.4},{"s":"17 nM","t":84,"v":3.2},{"s":"17 nM","t":86,"v":3.3},{"s":"17 nM","t":88,"v":3.5},{"s":"17 nM","t":90,"v":3.3},{"s":"17 nM","t":92,"v":3.4},{"s":"17 nM","t":94,"v":3.6},{"s":"17 nM","t":96,"v":3.5},{"s":"17 nM","t":98,"v":3.4},{"s":"17 nM","t":99,"v":2.8},{"s":"17 nM","t":99.6,"v":4.4},{"s":"17 nM","t":100.3,"v":1.6},{"s":"17 nM","t":101,"v":2.2},{"s":"17 nM","t":103,"v":2.4},{"s":"17 nM","t":105,"v":2.6},{"s":"17 nM","t":107,"v":2.3},{"s":"17 nM","t":109,"v":2.1},{"s":"17 nM","t":111,"v":1.9},{"s":"17 nM","t":113,"v":1.8},{"s":"17 nM","t":115,"v":1.6},{"s":"17 nM","t":117,"v":1.5},{"s":"17 nM","t":119,"v":1.3},{"s":"17 nM","t":121,"v":1.0},{"s":"17 nM","t":123,"v":0.6},{"s":"17 nM","t":124,"v":-0.1},{"s":"17 nM","t":124.6,"v":-2.2},{"s":"17 nM","t":125.8,"v":3.2},{"s":"17 nM","t":127,"v":1.5},{"s":"17 nM","t":128,"v":1.0},{"s":"17 nM","t":131,"v":0.9},{"s":"17 nM","t":134,"v":1.0},{"s":"17 nM","t":137,"v":0.9},{"s":"17 nM","t":140,"v":0.8},{"s":"17 nM","t":143,"v":0.7},{"s":"17 nM","t":146,"v":0.8},{"s":"17 nM","t":149,"v":0.7},{"s":"17 nM","t":152,"v":0.6},{"s":"17 nM","t":155,"v":0.8},{"s":"17 nM","t":158,"v":0.6},{"s":"17 nM","t":161,"v":0.5},{"s":"17 nM","t":164,"v":0.6},{"s":"17 nM","t":166,"v":1.4},{"s":"17 nM","t":167,"v":0.6},{"s":"17 nM","t":170,"v":0.5},{"s":"17 nM","t":173,"v":0.4},{"s":"17 nM","t":176,"v":0.5},{"s":"17 nM","t":179,"v":0.6},{"s":"17 nM","t":182,"v":0.5},{"s":"17 nM","t":185,"v":0.7},{"s":"17 nM","t":188,"v":0.8},{"s":"17 nM","t":191,"v":0.7},{"s":"17 nM","t":194,"v":0.9},{"s":"17 nM","t":197,"v":1.1},{"s":"17 nM","t":200,"v":1.4},
{"s":"34 nM","t":-50,"v":0.7},{"s":"34 nM","t":-48,"v":0.9},{"s":"34 nM","t":-46,"v":0.6},{"s":"34 nM","t":-44,"v":0.8},{"s":"34 nM","t":-42,"v":0.7},{"s":"34 nM","t":-40,"v":0.6},{"s":"34 nM","t":-39.5,"v":4.4},{"s":"34 nM","t":-38,"v":4.6},{"s":"34 nM","t":-36,"v":4.7},{"s":"34 nM","t":-34,"v":4.8},{"s":"34 nM","t":-33,"v":4.6},{"s":"34 nM","t":-32,"v":0.9},{"s":"34 nM","t":-30,"v":0.6},{"s":"34 nM","t":-28,"v":0.9},{"s":"34 nM","t":-26,"v":1.0},{"s":"34 nM","t":-24,"v":0.8},{"s":"34 nM","t":-22,"v":1.1},{"s":"34 nM","t":-20,"v":0.9},{"s":"34 nM","t":-18,"v":1.0},{"s":"34 nM","t":-16,"v":0.7},{"s":"34 nM","t":-14,"v":0.9},{"s":"34 nM","t":-12,"v":1.0},{"s":"34 nM","t":-10,"v":0.6},{"s":"34 nM","t":-8,"v":0.8},{"s":"34 nM","t":-6,"v":0.7},{"s":"34 nM","t":-4,"v":0.5},{"s":"34 nM","t":-2,"v":0.6},{"s":"34 nM","t":0,"v":1.2},{"s":"34 nM","t":0.5,"v":-0.5},{"s":"34 nM","t":1,"v":1.8},{"s":"34 nM","t":2,"v":2.2},{"s":"34 nM","t":4,"v":3.2},{"s":"34 nM","t":6,"v":3.5},{"s":"34 nM","t":8,"v":2.5},{"s":"34 nM","t":10,"v":3.4},{"s":"34 nM","t":12,"v":4.0},{"s":"34 nM","t":14,"v":4.3},{"s":"34 nM","t":16,"v":4.8},{"s":"34 nM","t":18,"v":5.3},{"s":"34 nM","t":20,"v":5.7},{"s":"34 nM","t":22,"v":5.6},{"s":"34 nM","t":24,"v":5.9},{"s":"34 nM","t":26,"v":6.2},{"s":"34 nM","t":28,"v":6.4},{"s":"34 nM","t":30,"v":6.6},{"s":"34 nM","t":32,"v":6.8},{"s":"34 nM","t":34,"v":7.0},{"s":"34 nM","t":36,"v":7.4},{"s":"34 nM","t":38,"v":7.0},{"s":"34 nM","t":40,"v":6.7},{"s":"34 nM","t":42,"v":6.9},{"s":"34 nM","t":44,"v":7.1},{"s":"34 nM","t":46,"v":7.3},{"s":"34 nM","t":48,"v":7.4},{"s":"34 nM","t":50,"v":7.2},{"s":"34 nM","t":52,"v":7.0},{"s":"34 nM","t":54,"v":6.7},{"s":"34 nM","t":56,"v":7.0},{"s":"34 nM","t":58,"v":7.3},{"s":"34 nM","t":60,"v":7.5},{"s":"34 nM","t":62,"v":7.8},{"s":"34 nM","t":64,"v":7.6},{"s":"34 nM","t":66,"v":7.7},{"s":"34 nM","t":68,"v":7.8},{"s":"34 nM","t":70,"v":7.7},{"s":"34 nM","t":72,"v":7.9},{"s":"34 nM","t":74,"v":7.8},{"s":"34 nM","t":76,"v":7.7},{"s":"34 nM","t":78,"v":7.8},{"s":"34 nM","t":80,"v":8.0},{"s":"34 nM","t":82,"v":8.1},{"s":"34 nM","t":84,"v":8.2},{"s":"34 nM","t":86,"v":8.3},{"s":"34 nM","t":88,"v":8.4},{"s":"34 nM","t":89,"v":8.5},{"s":"34 nM","t":90.5,"v":7.5},{"s":"34 nM","t":91.5,"v":5.8},{"s":"34 nM","t":93,"v":6.3},{"s":"34 nM","t":95,"v":6.8},{"s":"34 nM","t":97,"v":7.3},{"s":"34 nM","t":98.5,"v":7.6},{"s":"34 nM","t":100,"v":7.2},{"s":"34 nM","t":102,"v":7.1},{"s":"34 nM","t":104,"v":7.0},{"s":"34 nM","t":106,"v":6.8},{"s":"34 nM","t":108,"v":6.4},{"s":"34 nM","t":110,"v":5.6},{"s":"34 nM","t":112,"v":5.1},{"s":"34 nM","t":114,"v":5.0},{"s":"34 nM","t":116,"v":4.8},{"s":"34 nM","t":118,"v":4.6},{"s":"34 nM","t":120,"v":4.4},{"s":"34 nM","t":122,"v":4.2},{"s":"34 nM","t":124,"v":4.0},{"s":"34 nM","t":126,"v":3.8},{"s":"34 nM","t":128,"v":3.9},{"s":"34 nM","t":130,"v":3.7},{"s":"34 nM","t":132,"v":3.8},{"s":"34 nM","t":134,"v":4.0},{"s":"34 nM","t":136,"v":4.2},{"s":"34 nM","t":139,"v":4.1},{"s":"34 nM","t":142,"v":4.2},{"s":"34 nM","t":145,"v":4.1},{"s":"34 nM","t":148,"v":3.9},{"s":"34 nM","t":151,"v":4.0},{"s":"34 nM","t":154,"v":4.1},{"s":"34 nM","t":157,"v":3.9},{"s":"34 nM","t":160,"v":4.0},{"s":"34 nM","t":163,"v":4.3},{"s":"34 nM","t":166,"v":4.2},{"s":"34 nM","t":169,"v":4.4},{"s":"34 nM","t":172,"v":4.5},{"s":"34 nM","t":175,"v":4.6},{"s":"34 nM","t":178,"v":4.3},{"s":"34 nM","t":181,"v":4.5},{"s":"34 nM","t":184,"v":4.4},{"s":"34 nM","t":187,"v":4.6},{"s":"34 nM","t":190,"v":4.5},{"s":"34 nM","t":193,"v":4.7},{"s":"34 nM","t":196,"v":4.6},{"s":"34 nM","t":200,"v":5.0},
{"s":"69 nM","t":-50,"v":-0.2},{"s":"69 nM","t":-48,"v":-0.3},{"s":"69 nM","t":-46,"v":-0.4},{"s":"69 nM","t":-44,"v":-0.2},{"s":"69 nM","t":-42,"v":-0.3},{"s":"69 nM","t":-40,"v":-0.2},{"s":"69 nM","t":-39.5,"v":3.8},{"s":"69 nM","t":-38,"v":4.0},{"s":"69 nM","t":-36,"v":4.1},{"s":"69 nM","t":-34,"v":4.0},{"s":"69 nM","t":-33,"v":3.8},{"s":"69 nM","t":-32,"v":0.2},{"s":"69 nM","t":-31,"v":-0.5},{"s":"69 nM","t":-30,"v":-0.4},{"s":"69 nM","t":-28,"v":-0.2},{"s":"69 nM","t":-26,"v":0.0},{"s":"69 nM","t":-24,"v":-0.3},{"s":"69 nM","t":-22,"v":0.1},{"s":"69 nM","t":-20,"v":0.3},{"s":"69 nM","t":-18,"v":0.2},{"s":"69 nM","t":-16,"v":0.4},{"s":"69 nM","t":-14,"v":0.2},{"s":"69 nM","t":-12,"v":0.3},{"s":"69 nM","t":-10,"v":0.5},{"s":"69 nM","t":-8,"v":0.3},{"s":"69 nM","t":-6,"v":0.4},{"s":"69 nM","t":-4,"v":0.6},{"s":"69 nM","t":-2,"v":0.4},{"s":"69 nM","t":0,"v":0.8},{"s":"69 nM","t":0.5,"v":-1.5},{"s":"69 nM","t":1,"v":1.5},{"s":"69 nM","t":2,"v":2.5},{"s":"69 nM","t":3,"v":3.8},{"s":"69 nM","t":4,"v":4.9},{"s":"69 nM","t":5,"v":3.6},{"s":"69 nM","t":6,"v":3.2},{"s":"69 nM","t":7,"v":4.5},{"s":"69 nM","t":8,"v":5.2},{"s":"69 nM","t":10,"v":6.4},{"s":"69 nM","t":12,"v":7.1},{"s":"69 nM","t":14,"v":7.8},{"s":"69 nM","t":16,"v":8.5},{"s":"69 nM","t":18,"v":9.2},{"s":"69 nM","t":20,"v":9.4},{"s":"69 nM","t":22,"v":9.6},{"s":"69 nM","t":24,"v":9.9},{"s":"69 nM","t":26,"v":10.1},{"s":"69 nM","t":28,"v":10.4},{"s":"69 nM","t":30,"v":10.7},{"s":"69 nM","t":32,"v":10.5},{"s":"69 nM","t":34,"v":10.8},{"s":"69 nM","t":36,"v":11.0},{"s":"69 nM","t":38,"v":11.4},{"s":"69 nM","t":40,"v":11.2},{"s":"69 nM","t":42,"v":11.4},{"s":"69 nM","t":44,"v":11.0},{"s":"69 nM","t":46,"v":11.7},{"s":"69 nM","t":48,"v":11.5},{"s":"69 nM","t":50,"v":11.3},{"s":"69 nM","t":52,"v":11.5},{"s":"69 nM","t":54,"v":11.8},{"s":"69 nM","t":56,"v":11.6},{"s":"69 nM","t":58,"v":11.9},{"s":"69 nM","t":60,"v":12.0},{"s":"69 nM","t":62,"v":11.4},{"s":"69 nM","t":64,"v":11.2},{"s":"69 nM","t":66,"v":11.7},{"s":"69 nM","t":68,"v":12.3},{"s":"69 nM","t":70,"v":12.1},{"s":"69 nM","t":72,"v":11.7},{"s":"69 nM","t":74,"v":11.5},{"s":"69 nM","t":76,"v":11.8},{"s":"69 nM","t":78,"v":11.7},{"s":"69 nM","t":80,"v":11.4},{"s":"69 nM","t":82,"v":11.6},{"s":"69 nM","t":84,"v":11.9},{"s":"69 nM","t":86,"v":12.1},{"s":"69 nM","t":88,"v":12.3},{"s":"69 nM","t":90,"v":12.5},{"s":"69 nM","t":92,"v":12.4},{"s":"69 nM","t":94,"v":12.6},{"s":"69 nM","t":96,"v":13.0},{"s":"69 nM","t":97.5,"v":12.1},{"s":"69 nM","t":98.5,"v":12.8},{"s":"69 nM","t":99.3,"v":14.8},{"s":"69 nM","t":99.8,"v":10.0},{"s":"69 nM","t":101.5,"v":11.7},{"s":"69 nM","t":103,"v":10.8},{"s":"69 nM","t":104.5,"v":10.0},{"s":"69 nM","t":107,"v":8.2},{"s":"69 nM","t":109.5,"v":7.1},{"s":"69 nM","t":111.5,"v":6.7},{"s":"69 nM","t":113.5,"v":6.4},{"s":"69 nM","t":116,"v":6.0},{"s":"69 nM","t":118,"v":5.6},{"s":"69 nM","t":120,"v":5.4},{"s":"69 nM","t":122,"v":5.0},{"s":"69 nM","t":124,"v":4.2},{"s":"69 nM","t":125.5,"v":3.5},{"s":"69 nM","t":126.5,"v":6.4},{"s":"69 nM","t":128,"v":4.2},{"s":"69 nM","t":130,"v":4.0},{"s":"69 nM","t":132,"v":3.9},{"s":"69 nM","t":134,"v":3.7},{"s":"69 nM","t":136,"v":3.5},{"s":"69 nM","t":139,"v":3.6},{"s":"69 nM","t":142,"v":3.4},{"s":"69 nM","t":145,"v":3.3},{"s":"69 nM","t":148,"v":3.5},{"s":"69 nM","t":151,"v":3.4},{"s":"69 nM","t":154,"v":3.6},{"s":"69 nM","t":157,"v":3.1},{"s":"69 nM","t":160,"v":2.8},{"s":"69 nM","t":163,"v":3.0},{"s":"69 nM","t":166,"v":2.8},{"s":"69 nM","t":169,"v":2.9},{"s":"69 nM","t":172,"v":2.6},{"s":"69 nM","t":175,"v":2.5},{"s":"69 nM","t":178,"v":2.7},{"s":"69 nM","t":181,"v":2.4},{"s":"69 nM","t":184,"v":2.5},{"s":"69 nM","t":187,"v":2.3},{"s":"69 nM","t":190,"v":2.1},{"s":"69 nM","t":193,"v":2.3},{"s":"69 nM","t":196,"v":2.5},{"s":"69 nM","t":200,"v":2.8},
{"s":"137 nM","t":-50,"v":-0.3},{"s":"137 nM","t":-48,"v":-0.6},{"s":"137 nM","t":-46,"v":-0.4},{"s":"137 nM","t":-44,"v":-0.7},{"s":"137 nM","t":-42,"v":-0.6},{"s":"137 nM","t":-40,"v":-0.5},{"s":"137 nM","t":-39.5,"v":4.3},{"s":"137 nM","t":-38,"v":4.5},{"s":"137 nM","t":-36,"v":4.7},{"s":"137 nM","t":-34,"v":4.9},{"s":"137 nM","t":-33,"v":4.8},{"s":"137 nM","t":-32,"v":0.5},{"s":"137 nM","t":-31,"v":-0.3},{"s":"137 nM","t":-30,"v":-0.6},{"s":"137 nM","t":-28,"v":-0.2},{"s":"137 nM","t":-26,"v":-0.4},{"s":"137 nM","t":-24,"v":-0.1},{"s":"137 nM","t":-22,"v":-0.2},{"s":"137 nM","t":-21,"v":0.5},{"s":"137 nM","t":-20,"v":0.4},{"s":"137 nM","t":-18,"v":0.5},{"s":"137 nM","t":-16,"v":0.3},{"s":"137 nM","t":-14,"v":0.4},{"s":"137 nM","t":-12,"v":0.6},{"s":"137 nM","t":-10,"v":0.8},{"s":"137 nM","t":-8,"v":1.1},{"s":"137 nM","t":-6,"v":0.6},{"s":"137 nM","t":-4,"v":0.5},{"s":"137 nM","t":-2,"v":0.7},{"s":"137 nM","t":0,"v":0.9},{"s":"137 nM","t":0.5,"v":2.5},{"s":"137 nM","t":1,"v":-0.9},{"s":"137 nM","t":1.5,"v":2.5},{"s":"137 nM","t":2,"v":3.5},{"s":"137 nM","t":3,"v":5.0},{"s":"137 nM","t":4,"v":6.8},{"s":"137 nM","t":5,"v":8.0},{"s":"137 nM","t":6,"v":8.8},{"s":"137 nM","t":7,"v":9.5},{"s":"137 nM","t":8,"v":10.3},{"s":"137 nM","t":10,"v":11.2},{"s":"137 nM","t":12,"v":12.1},{"s":"137 nM","t":14,"v":13.2},{"s":"137 nM","t":16,"v":14.2},{"s":"137 nM","t":18,"v":15.2},{"s":"137 nM","t":20,"v":16.0},{"s":"137 nM","t":22,"v":16.3},{"s":"137 nM","t":24,"v":16.7},{"s":"137 nM","t":26,"v":17.0},{"s":"137 nM","t":28,"v":17.5},{"s":"137 nM","t":30,"v":17.9},{"s":"137 nM","t":31.5,"v":18.5},{"s":"137 nM","t":33,"v":18.0},{"s":"137 nM","t":35,"v":18.0},{"s":"137 nM","t":37,"v":18.4},{"s":"137 nM","t":39,"v":18.2},{"s":"137 nM","t":41,"v":18.5},{"s":"137 nM","t":43,"v":18.4},{"s":"137 nM","t":45,"v":18.8},{"s":"137 nM","t":47,"v":19.1},{"s":"137 nM","t":49,"v":18.7},{"s":"137 nM","t":51,"v":18.3},{"s":"137 nM","t":53,"v":17.6},{"s":"137 nM","t":55,"v":17.7},{"s":"137 nM","t":57,"v":18.2},{"s":"137 nM","t":59,"v":18.1},{"s":"137 nM","t":61,"v":18.3},{"s":"137 nM","t":63,"v":18.1},{"s":"137 nM","t":65,"v":17.8},{"s":"137 nM","t":67,"v":17.5},{"s":"137 nM","t":69,"v":17.9},{"s":"137 nM","t":71,"v":18.0},{"s":"137 nM","t":73,"v":17.9},{"s":"137 nM","t":75,"v":17.6},{"s":"137 nM","t":77,"v":17.5},{"s":"137 nM","t":79,"v":18.0},{"s":"137 nM","t":81,"v":18.3},{"s":"137 nM","t":83,"v":18.2},{"s":"137 nM","t":85,"v":18.5},{"s":"137 nM","t":87,"v":18.4},{"s":"137 nM","t":89,"v":18.1},{"s":"137 nM","t":91,"v":17.6},{"s":"137 nM","t":93,"v":17.7},{"s":"137 nM","t":95,"v":17.8},{"s":"137 nM","t":97,"v":18.2},{"s":"137 nM","t":98,"v":18.3},{"s":"137 nM","t":99.5,"v":16.4},{"s":"137 nM","t":101,"v":16.0},{"s":"137 nM","t":102.5,"v":14.5},{"s":"137 nM","t":104,"v":12.5},{"s":"137 nM","t":105,"v":11.0},{"s":"137 nM","t":107,"v":10.7},{"s":"137 nM","t":108.5,"v":10.3},{"s":"137 nM","t":111,"v":9.6},{"s":"137 nM","t":113,"v":9.0},{"s":"137 nM","t":115,"v":8.5},{"s":"137 nM","t":117,"v":8.0},{"s":"137 nM","t":119,"v":7.4},{"s":"137 nM","t":121,"v":6.9},{"s":"137 nM","t":122.5,"v":6.5},{"s":"137 nM","t":123.5,"v":5.4},{"s":"137 nM","t":124.5,"v":-1.2},{"s":"137 nM","t":125.5,"v":10.3},{"s":"137 nM","t":126.5,"v":6.2},{"s":"137 nM","t":128,"v":5.9},{"s":"137 nM","t":130,"v":5.3},{"s":"137 nM","t":132,"v":4.9},{"s":"137 nM","t":134,"v":4.7},{"s":"137 nM","t":135.5,"v":5.8},{"s":"137 nM","t":137,"v":4.6},{"s":"137 nM","t":140,"v":4.4},{"s":"137 nM","t":143,"v":4.2},{"s":"137 nM","t":146,"v":4.0},{"s":"137 nM","t":149,"v":4.1},{"s":"137 nM","t":152,"v":3.8},{"s":"137 nM","t":155,"v":3.6},{"s":"137 nM","t":158,"v":3.7},{"s":"137 nM","t":161,"v":3.4},{"s":"137 nM","t":164,"v":3.9},{"s":"137 nM","t":167,"v":3.6},{"s":"137 nM","t":170,"v":3.4},{"s":"137 nM","t":173,"v":3.3},{"s":"137 nM","t":176,"v":3.1},{"s":"137 nM","t":179,"v":3.3},{"s":"137 nM","t":182,"v":2.9},{"s":"137 nM","t":185,"v":2.8},{"s":"137 nM","t":188,"v":2.6},{"s":"137 nM","t":191,"v":2.4},{"s":"137 nM","t":194,"v":2.6},{"s":"137 nM","t":197,"v":2.4},{"s":"137 nM","t":200,"v":2.8},
{"s":"0 nM","t":-50,"v":0},{"s":"0 nM","t":200,"v":0}
],
"bf": [
{"s":"f137","t":0,"v":0},{"s":"f137","t":2,"v":2.57},{"s":"f137","t":4,"v":4.77},{"s":"f137","t":6,"v":6.63},{"s":"f137","t":8,"v":8.23},{"s":"f137","t":10,"v":9.58},{"s":"f137","t":13,"v":11.25},{"s":"f137","t":16,"v":12.56},{"s":"f137","t":20,"v":13.89},{"s":"f137","t":25,"v":15.05},{"s":"f137","t":30,"v":15.82},{"s":"f137","t":35,"v":16.34},{"s":"f137","t":40,"v":16.69},{"s":"f137","t":50,"v":17.09},{"s":"f137","t":60,"v":17.26},{"s":"f137","t":70,"v":17.34},{"s":"f137","t":80,"v":17.37},{"s":"f137","t":90,"v":17.39},{"s":"f137","t":100,"v":17.4},{"s":"f137","t":102,"v":16.32},{"s":"f137","t":105,"v":14.82},{"s":"f137","t":110,"v":12.63},{"s":"f137","t":115,"v":10.77},{"s":"f137","t":120,"v":9.17},{"s":"f137","t":125,"v":7.81},{"s":"f137","t":130,"v":6.66},{"s":"f137","t":140,"v":4.84},{"s":"f137","t":150,"v":3.51},{"s":"f137","t":160,"v":2.56},{"s":"f137","t":170,"v":1.84},{"s":"f137","t":180,"v":1.34},{"s":"f137","t":190,"v":0.97},{"s":"f137","t":200,"v":0.71},
{"s":"f69","t":0,"v":0},{"s":"f69","t":2,"v":1.57},{"s":"f69","t":4,"v":2.95},{"s":"f69","t":6,"v":4.17},{"s":"f69","t":8,"v":5.22},{"s":"f69","t":10,"v":6.17},{"s":"f69","t":13,"v":7.36},{"s":"f69","t":16,"v":8.34},{"s":"f69","t":20,"v":9.38},{"s":"f69","t":25,"v":10.36},{"s":"f69","t":30,"v":11.07},{"s":"f69","t":35,"v":11.57},{"s":"f69","t":40,"v":11.94},{"s":"f69","t":50,"v":12.4},{"s":"f69","t":60,"v":12.64},{"s":"f69","t":70,"v":12.76},{"s":"f69","t":80,"v":12.83},{"s":"f69","t":90,"v":12.86},{"s":"f69","t":100,"v":12.88},{"s":"f69","t":102,"v":12.08},{"s":"f69","t":105,"v":10.97},{"s":"f69","t":110,"v":9.35},{"s":"f69","t":115,"v":7.97},{"s":"f69","t":120,"v":6.79},{"s":"f69","t":125,"v":5.78},{"s":"f69","t":130,"v":4.93},{"s":"f69","t":140,"v":3.58},{"s":"f69","t":150,"v":2.6},{"s":"f69","t":160,"v":1.89},{"s":"f69","t":170,"v":1.37},{"s":"f69","t":180,"v":0.99},{"s":"f69","t":190,"v":0.72},{"s":"f69","t":200,"v":0.53},
{"s":"f34","t":0,"v":0},{"s":"f34","t":2,"v":0.8},{"s":"f34","t":4,"v":1.52},{"s":"f34","t":6,"v":2.18},{"s":"f34","t":8,"v":2.77},{"s":"f34","t":10,"v":3.3},{"s":"f34","t":13,"v":4.02},{"s":"f34","t":16,"v":4.63},{"s":"f34","t":20,"v":5.31},{"s":"f34","t":25,"v":5.99},{"s":"f34","t":30,"v":6.53},{"s":"f34","t":35,"v":6.94},{"s":"f34","t":40,"v":7.26},{"s":"f34","t":50,"v":7.71},{"s":"f34","t":60,"v":7.98},{"s":"f34","t":70,"v":8.15},{"s":"f34","t":80,"v":8.25},{"s":"f34","t":90,"v":8.31},{"s":"f34","t":100,"v":8.34},{"s":"f34","t":102,"v":7.82},{"s":"f34","t":105,"v":7.11},{"s":"f34","t":110,"v":6.05},{"s":"f34","t":115,"v":5.16},{"s":"f34","t":120,"v":4.4},{"s":"f34","t":125,"v":3.74},{"s":"f34","t":130,"v":3.19},{"s":"f34","t":140,"v":2.32},{"s":"f34","t":150,"v":1.68},{"s":"f34","t":160,"v":1.23},{"s":"f34","t":170,"v":0.88},{"s":"f34","t":180,"v":0.64},{"s":"f34","t":190,"v":0.47},{"s":"f34","t":200,"v":0.34},
{"s":"f17","t":0,"v":0},{"s":"f17","t":2,"v":0.38},{"s":"f17","t":4,"v":0.74},{"s":"f17","t":6,"v":1.07},{"s":"f17","t":8,"v":1.37},{"s":"f17","t":10,"v":1.65},{"s":"f17","t":13,"v":2.03},{"s":"f17","t":16,"v":2.36},{"s":"f17","t":20,"v":2.75},{"s":"f17","t":25,"v":3.16},{"s":"f17","t":30,"v":3.49},{"s":"f17","t":35,"v":3.77},{"s":"f17","t":40,"v":3.99},{"s":"f17","t":50,"v":4.32},{"s":"f17","t":60,"v":4.55},{"s":"f17","t":70,"v":4.7},{"s":"f17","t":80,"v":4.8},{"s":"f17","t":90,"v":4.86},{"s":"f17","t":100,"v":4.91},{"s":"f17","t":102,"v":4.61},{"s":"f17","t":105,"v":4.18},{"s":"f17","t":110,"v":3.56},{"s":"f17","t":115,"v":3.04},{"s":"f17","t":120,"v":2.59},{"s":"f17","t":125,"v":2.2},{"s":"f17","t":130,"v":1.88},{"s":"f17","t":140,"v":1.36},{"s":"f17","t":150,"v":0.99},{"s":"f17","t":160,"v":0.72},{"s":"f17","t":170,"v":0.52},{"s":"f17","t":180,"v":0.38},{"s":"f17","t":190,"v":0.27},{"s":"f17","t":200,"v":0.2},
{"s":"f7","t":0,"v":0},{"s":"f7","t":2,"v":0.16},{"s":"f7","t":4,"v":0.31},{"s":"f7","t":6,"v":0.45},{"s":"f7","t":8,"v":0.59},{"s":"f7","t":10,"v":0.71},{"s":"f7","t":13,"v":0.88},{"s":"f7","t":16,"v":1.03},{"s":"f7","t":20,"v":1.21},{"s":"f7","t":25,"v":1.4},{"s":"f7","t":30,"v":1.56},{"s":"f7","t":35,"v":1.69},{"s":"f7","t":40,"v":1.81},{"s":"f7","t":50,"v":1.98},{"s":"f7","t":60,"v":2.11},{"s":"f7","t":70,"v":2.19},{"s":"f7","t":80,"v":2.25},{"s":"f7","t":90,"v":2.3},{"s":"f7","t":100,"v":2.33},{"s":"f7","t":102,"v":2.19},{"s":"f7","t":105,"v":1.99},{"s":"f7","t":110,"v":1.69},{"s":"f7","t":115,"v":1.44},{"s":"f7","t":120,"v":1.23},{"s":"f7","t":125,"v":1.05},{"s":"f7","t":130,"v":0.89},{"s":"f7","t":140,"v":0.65},{"s":"f7","t":150,"v":0.47},{"s":"f7","t":160,"v":0.34},{"s":"f7","t":170,"v":0.25},{"s":"f7","t":180,"v":0.18},{"s":"f7","t":190,"v":0.13},{"s":"f7","t":200,"v":0.1}
]
},
"spacing": 11,
"resolve": {"scale": {"color": "independent"}, "legend": {"color": "independent"}},
"vconcat": [
{
  "width": 624, "height": 467,
  "title": {"text": "a", "anchor": "start", "frame": "group", "font": "Lato", "fontSize": 44, "fontWeight": "bold", "color": "black", "dx": -87, "offset": -11},
  "layer": [
    {"data": {"name": "a"}, "mark": {"type": "line", "strokeWidth": 2.6, "clip": true},
     "encoding": {
       "x": {"field": "t", "type": "quantitative", "scale": {"domain": [-50, 200], "nice": false, "zero": false},
             "axis": {"title": "Time (s)", "values": [-50,-25,0,25,50,75,100,125,150,175,200], "labelExpr": "datum.value % 50 === 0 ? datum.label : ''", "tickSize": {"condition": {"test": "datum.value % 50 === 0", "value": 11}, "value": 6}, "labelPadding": 4, "titlePadding": 10}},
       "y": {"field": "v", "type": "quantitative", "scale": {"domain": [-10, 40], "nice": false, "zero": false},
             "axis": {"title": "Resonance units (RU)", "titleFontSize": 30, "values": [-10,-5,0,5,10,15,20,25,30,35,40], "labelExpr": "datum.value % 10 === 0 ? datum.label : ''", "tickSize": {"condition": {"test": "datum.value % 10 === 0", "value": 11}, "value": 6}, "labelPadding": 5, "titlePadding": 8}},
       "color": {"field": "s", "type": "nominal",
                 "scale": {"domain": ["100 nM", "50 nM", "25 nM", "10 nM", "0 nM"], "range": ["#ff8c00", "#0000ff", "#ff0000", "#118811", "#000000"]},
                 "legend": {"title": null, "orient": "none", "legendX": 471, "legendY": -2, "symbolType": "stroke", "symbolSize": 3025, "symbolStrokeWidth": 3, "labelFont": "DejaVu Sans", "labelFontSize": 20, "labelColor": "black", "strokeColor": "#8c8c8c", "fillColor": "white", "padding": 2, "clipHeight": 28.5, "rowPadding": 0, "labelOffset": 4}}
     }},
    {"data": {"name": "af"}, "mark": {"type": "line", "color": "black", "strokeWidth": 3, "strokeDash": [12, 7], "interpolate": "monotone"},
     "encoding": {"x": {"field": "t", "type": "quantitative"}, "y": {"field": "v", "type": "quantitative"}, "detail": {"field": "s", "type": "nominal"}}},
    {"data": {"values": [{"t": -36.8, "v": 37.8, "label": "Wild-type"}]}, "mark": {"type": "text", "align": "left", "baseline": "middle", "font": "Lato", "fontWeight": "bold", "fontSize": 20, "color": "black"},
     "encoding": {"x": {"field": "t", "type": "quantitative"}, "y": {"field": "v", "type": "quantitative"}, "text": {"field": "label"}}}
  ]
},
{
  "width": 624, "height": 467,
  "title": {"text": "b", "anchor": "start", "frame": "group", "font": "Lato", "fontSize": 44, "fontWeight": "bold", "color": "black", "dx": -87, "offset": -11},
  "layer": [
    {"data": {"name": "b"}, "mark": {"type": "line", "strokeWidth": 2.6, "clip": true},
     "encoding": {
       "x": {"field": "t", "type": "quantitative", "scale": {"domain": [-50, 200], "nice": false, "zero": false},
             "axis": {"title": "Time (s)", "values": [-50,-25,0,25,50,75,100,125,150,175,200], "labelExpr": "datum.value % 50 === 0 ? datum.label : ''", "tickSize": {"condition": {"test": "datum.value % 50 === 0", "value": 11}, "value": 6}, "labelPadding": 4, "titlePadding": 10}},
       "y": {"field": "v", "type": "quantitative", "scale": {"domain": [-10, 40], "nice": false, "zero": false},
             "axis": {"title": "Resonance units (RU)", "titleFontSize": 30, "values": [-10,-5,0,5,10,15,20,25,30,35,40], "labelExpr": "datum.value % 10 === 0 ? datum.label : ''", "tickSize": {"condition": {"test": "datum.value % 10 === 0", "value": 11}, "value": 6}, "labelPadding": 5, "titlePadding": 8}},
       "color": {"field": "s", "type": "nominal",
                 "scale": {"domain": ["137 nM", "69 nM", "34 nM", "17 nM", "7 nM", "0 nM"], "range": ["#800080", "#ff8c00", "#000080", "#ff0000", "#118811", "#000000"]},
                 "legend": {"title": null, "orient": "none", "legendX": 471, "legendY": -3, "symbolType": "stroke", "symbolSize": 3025, "symbolStrokeWidth": 3, "labelFont": "DejaVu Sans", "labelFontSize": 20, "labelColor": "black", "strokeColor": "#8c8c8c", "fillColor": "white", "padding": 2, "clipHeight": 28.8, "rowPadding": 0, "labelOffset": 4}}
     }},
    {"data": {"name": "bf"}, "mark": {"type": "line", "color": "black", "strokeWidth": 3, "strokeDash": [12, 7], "interpolate": "monotone"},
     "encoding": {"x": {"field": "t", "type": "quantitative"}, "y": {"field": "v", "type": "quantitative"}, "detail": {"field": "s", "type": "nominal"}}},
    {"data": {"values": [{"t": -30, "v": 36.6, "label": "E47A"}]}, "mark": {"type": "text", "align": "left", "baseline": "middle", "font": "Lato", "fontWeight": "bold", "fontSize": 20, "color": "black"},
     "encoding": {"x": {"field": "t", "type": "quantitative"}, "y": {"field": "v", "type": "quantitative"}, "text": {"field": "label"}}}
  ]
}
]
}
